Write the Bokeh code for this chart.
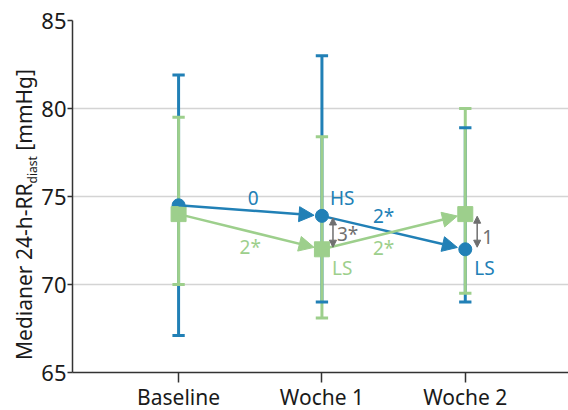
import numpy as np
from bokeh.plotting import figure
from bokeh.layouts import row
from bokeh.models import Arrow, NormalHead, FixedTicker, Range1d, Div
from bokeh.embed import file_html
from bokeh.resources import INLINE
from bokeh.core.properties import value

categories = ["Baseline", "Woche 1", "Woche 2"]
x_pos = [0, 1, 2]
hs_median = [74.5, 73.9, 72.0]
hs_low = [67.1, 69.0, 69.0]
hs_high = [81.9, 83.0, 78.9]
ls_median = [74.0, 72.0, 74.0]
ls_low = [70.0, 68.1, 69.5]
ls_high = [79.5, 78.4, 80.0]
hs_change_labels = ["0", "2*"]
ls_change_labels = ["2*", "2*"]
diff_labels = ["3*", "1"]
y_ticks = [65, 70, 75, 80, 85]
y_label_parts = ["Medianer 24-h-RR", "diast", "[mmHg]"]

BLUE = "#2180b6"
GREEN = "#9dcf8c"
GRAY = "#6f6f6f"
TXT = "#1a1a1a"
FONT = "Noto Sans"

LW = 38   # width of the y-label strip
H = 408

# ---- y-axis label strip (rotated HTML text with real subscript) ----
label_html = (
    '<div style="transform: translate(13.5px, 360px) rotate(-90deg); transform-origin: 0 0; '
    'white-space: nowrap; width: max-content; line-height: 21px; font-size: 21px; '
    f"font-family: '{FONT}'; color: {TXT};\">"
    f'{y_label_parts[0]}<sub style="font-size: 12px; line-height: 0;">{y_label_parts[1]}</sub> {y_label_parts[2]}</div>'
)
lab = Div(text=label_html, width=LW, height=H, styles={"overflow": "visible", "margin": "0", "padding": "0"})

# ---- main chart ----
p = figure(frame_width=496, frame_height=352, output_backend="svg", toolbar_location=None,
           x_range=Range1d(-0.74, 2.72), y_range=Range1d(65, 85),
           min_border_left=72 - LW, min_border_right=0, min_border_top=20, min_border_bottom=36)
p.outline_line_color = None
p.xgrid.grid_line_color = None
p.ygrid.grid_line_color = "#d4d4d4"
p.ygrid.grid_line_width = 1.5
p.yaxis.ticker = FixedTicker(ticks=y_ticks)
p.xaxis.ticker = FixedTicker(ticks=x_pos)
p.xaxis.major_label_overrides = {i: c for i, c in zip(x_pos, categories)}
for ax in (p.xaxis[0], p.yaxis[0]):
    ax.axis_line_color = "#333333"
    ax.axis_line_width = 1.5
    ax.major_tick_line_color = "#333333"
    ax.major_tick_line_width = 1.5
    ax.minor_tick_line_color = None
    ax.major_tick_in = 0
    ax.major_label_text_font = FONT
    ax.major_label_text_color = TXT
p.yaxis.major_tick_out = 5
p.yaxis.major_label_standoff = 1
p.yaxis.major_label_text_font_size = "22px"
p.xaxis.major_tick_out = 10
p.xaxis.major_label_standoff = 0
p.xaxis.major_label_text_font_size = "21px"

cap = 0.043
p.segment(x_pos, hs_low, x_pos, hs_high, line_color=BLUE, line_width=3)
p.segment(x_pos, ls_low, x_pos, ls_high, line_color=GREEN, line_width=3)
for lo, hi, col in ((hs_low, hs_high, BLUE), (ls_low, ls_high, GREEN)):
    x0 = [x - cap for x in x_pos]
    x1 = [x + cap for x in x_pos]
    p.segment(x0, lo, x1, lo, line_color=col, line_width=3)
    p.segment(x0, hi, x1, hi, line_color=col, line_width=3)

def add_arrows(med, col):
    for i in range(len(med) - 1):
        xs, ys, xe, ye = x_pos[i], med[i], x_pos[i + 1], med[i + 1]
        t = 1 - 0.055
        p.add_layout(Arrow(x_start=xs, y_start=ys, x_end=xs + (xe - xs) * t, y_end=ys + (ye - ys) * t,
                           line_color=col, line_width=2.5,
                           end=NormalHead(size=15, fill_color=col, line_color=col, line_width=1)))

add_arrows(hs_median, BLUE)
add_arrows(ls_median, GREEN)

p.scatter(x_pos, hs_median, marker="circle", size=13, fill_color=BLUE, line_color=BLUE)
p.scatter(x_pos, ls_median, marker="square", size=15, fill_color=GREEN, line_color=GREEN)

d_off = [0.077, 0.083]
for k, i in enumerate([1, 2]):
    top = max(hs_median[i], ls_median[i]) - 0.12
    bot = min(hs_median[i], ls_median[i]) + 0.12
    xx = x_pos[i] + d_off[k]
    p.add_layout(Arrow(x_start=xx, y_start=bot, x_end=xx, y_end=top, line_color=GRAY, line_width=1.5,
                       start=NormalHead(size=7, fill_color=GRAY, line_color=GRAY, line_width=1),
                       end=NormalHead(size=7, fill_color=GRAY, line_color=GRAY, line_width=1)))

txt_kw = dict(text_font=value(FONT), text_font_size="19px", text_baseline="middle")

mid_x = [(x_pos[i] + x_pos[i + 1]) / 2 for i in range(2)]
hs_mid_y = [(hs_median[i] + hs_median[i + 1]) / 2 for i in range(2)]
ls_mid_y = [(ls_median[i] + ls_median[i + 1]) / 2 for i in range(2)]
p.text(mid_x[:1], hs_mid_y[:1], text=hs_change_labels[:1], text_color=BLUE, text_align="center",
       x_offset=3, y_offset=-13, **txt_kw)
p.text(mid_x[1:], hs_mid_y[1:], text=hs_change_labels[1:], text_color=BLUE, text_align="center",
       x_offset=-10, y_offset=-17, **txt_kw)
p.text(mid_x[:1], ls_mid_y[:1], text=ls_change_labels[:1], text_color=GREEN, text_align="center",
       x_offset=0, y_offset=15, **txt_kw)
p.text(mid_x[1:], ls_mid_y[1:], text=ls_change_labels[1:], text_color=GREEN, text_align="center",
       x_offset=-10, y_offset=16, **txt_kw)

p.text([x_pos[1]], [hs_median[1]], text=["HS"], text_color=BLUE, text_align="left", x_offset=8, y_offset=-18, **txt_kw)
p.text([x_pos[1]], [ls_median[1]], text=["LS"], text_color=GREEN, text_align="left", x_offset=10, y_offset=19, **txt_kw)
p.text([x_pos[2]], [hs_median[2]], text=["LS"], text_color=BLUE, text_align="left", x_offset=9, y_offset=19, **txt_kw)

diff_y = [(hs_median[i] + ls_median[i]) / 2 for i in (1, 2)]
p.text([x_pos[1]], [diff_y[0]], text=[diff_labels[0]], text_color=GRAY, text_align="left", x_offset=15, y_offset=1, **txt_kw)
p.text([x_pos[2]], [diff_y[1]], text=[diff_labels[1]], text_color=GRAY, text_align="left", x_offset=17, y_offset=5, **txt_kw)

layout = row(lab, p, spacing=0)
open("out.html", "w").write(file_html(layout, INLINE))
